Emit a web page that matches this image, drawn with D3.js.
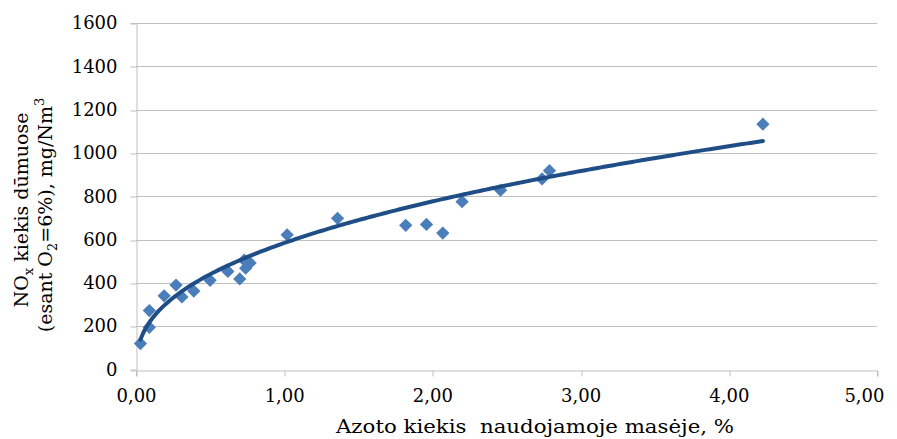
<!DOCTYPE html>
<html>
<head>
<meta charset="utf-8">
<script src="https://cdn.jsdelivr.net/npm/d3@7"></script>
<style>
  body { margin: 0; background: #fff; }
</style>
</head>
<body>
<div id="chart"></div>
<script>
// nitrogen content (%) vs NOx emissions (mg/Nm3)
var nitrogen = [0.03, 0.09, 0.09, 0.19, 0.27, 0.31, 0.39, 0.50, 0.62, 0.70, 0.73, 0.74, 0.77,
                1.02, 1.36, 1.82, 1.96, 2.07, 2.20, 2.46, 2.74, 2.79, 4.23];
var nox = [120, 195, 272, 340, 390, 335, 362, 412, 453, 418, 505, 468, 492,
           622, 698, 666, 670, 630, 775, 828, 880, 918, 1133];
var xTicks = [0, 1, 2, 3, 4, 5];
var yTicks = [0, 200, 400, 600, 800, 1000, 1200, 1400, 1600];
// power trendline y = a * x^b
var trendA = 584, trendB = 0.41;

var serif = 'DejaVu Serif, Liberation Serif, Noto Serif, serif';
var width = 897, height = 439;
var margin = {top: 23, right: 20, bottom: 69.5, left: 136};

var svg = d3.select('#chart').append('svg')
  .attr('width', width)
  .attr('height', height)
  .style('font-family', serif);

var x = d3.scaleLinear().domain([0, 5]).range([margin.left, 877]);
var y = d3.scaleLinear().domain([0, 1600]).range([height - margin.bottom, margin.top]);

// grid
svg.append('g')
  .selectAll('line')
  .data(yTicks.slice(1))
  .enter().append('line')
  .attr('x1', x(0)).attr('x2', x(5))
  .attr('y1', d => Math.round(y(d)) + 0.5).attr('y2', d => Math.round(y(d)) + 0.5)
  .attr('stroke', '#bfbfbf');

var xAxis = d3.axisBottom(x).tickValues(xTicks).tickSize(6).tickPadding(11)
  .tickFormat(d => d3.format('.2f')(d).replace('.', ','));
var gx = svg.append('g')
  .attr('transform', 'translate(0,' + (Math.round(y(0)) + 0.5) + ')')
  .call(xAxis);

var yAxis = d3.axisLeft(y).tickValues(yTicks).tickSize(6).tickPadding(13)
  .tickFormat(d3.format('d'));
var gy = svg.append('g')
  .attr('transform', 'translate(' + (Math.round(x(0)) + 0.5) + ',0)')
  .call(yAxis);

[gx, gy].forEach(function (g) {
  g.attr('font-family', serif).attr('font-size', 18);
  g.select('.domain').attr('stroke', '#bfbfbf');
  g.selectAll('.tick line').attr('stroke', '#bfbfbf');
  g.selectAll('.tick text').attr('fill', '#000');
});
gy.selectAll('.tick line').attr('transform', d => 'translate(0,' + (Math.round(y(d)) + 0.5 - y(d)) + ')');
gx.selectAll('.tick line').attr('transform', d => 'translate(' + (Math.round(x(d)) + 0.5 - x(d)) + ',0)');
gx.selectAll('.tick text').attr('dy', '0.78em');
// last label sits left of its tick so it stays inside the frame
gx.selectAll('.tick text').filter(d => d === 5).attr('text-anchor', 'end').attr('x', 7);

var xs = d3.range(0, 201).map(i => d3.min(nitrogen) + (d3.max(nitrogen) - d3.min(nitrogen)) * i / 200);

svg.selectAll('path.pt')
  .data(nitrogen)
  .enter().append('path')
  .attr('class', 'pt')
  .attr('d', d3.symbol().type(d3.symbolSquare).size(88))
  .attr('transform', (d, i) => 'translate(' + x(d) + ',' + y(nox[i]) + ') rotate(45)')
  .attr('fill', '#4a7ebb');

svg.append('path')
  .datum(xs)
  .attr('fill', 'none')
  .attr('stroke', '#1f4e86')
  .attr('stroke-width', 4)
  .attr('stroke-linecap', 'round')
  .attr('d', d3.line().x(d => x(d)).y(d => y(trendA * Math.pow(d, trendB))));

// axis titles
svg.append('text')
  .attr('x', 535).attr('y', 433)
  .attr('text-anchor', 'middle')
  .attr('font-family', serif)
  .attr('font-size', 19)
  .attr('textLength', 398)
  .attr('lengthAdjust', 'spacingAndGlyphs')
  .style('white-space', 'pre')
  .text('Azoto kiekis  naudojamoje masėje, %');

var t1 = svg.append('text')
  .attr('transform', 'translate(28,210) rotate(-90)')
  .attr('text-anchor', 'middle')
  .attr('font-family', serif)
  .attr('font-size', 19);
t1.append('tspan').text('NO');
t1.append('tspan').attr('dy', 5).attr('font-size', 13).text('x');
t1.append('tspan').attr('dy', -5).text(' kiekis  dūmuose');

var t2 = svg.append('text')
  .attr('transform', 'translate(52,215) rotate(-90)')
  .attr('text-anchor', 'middle')
  .attr('font-family', serif)
  .attr('font-size', 19);
t2.append('tspan').text('(esant O');
t2.append('tspan').attr('dy', 5).attr('font-size', 13).text('2');
t2.append('tspan').attr('dy', -5).text('=6%), mg/Nm');
t2.append('tspan').attr('dy', -8).attr('font-size', 13).text('3');
</script>
</body>
</html>
